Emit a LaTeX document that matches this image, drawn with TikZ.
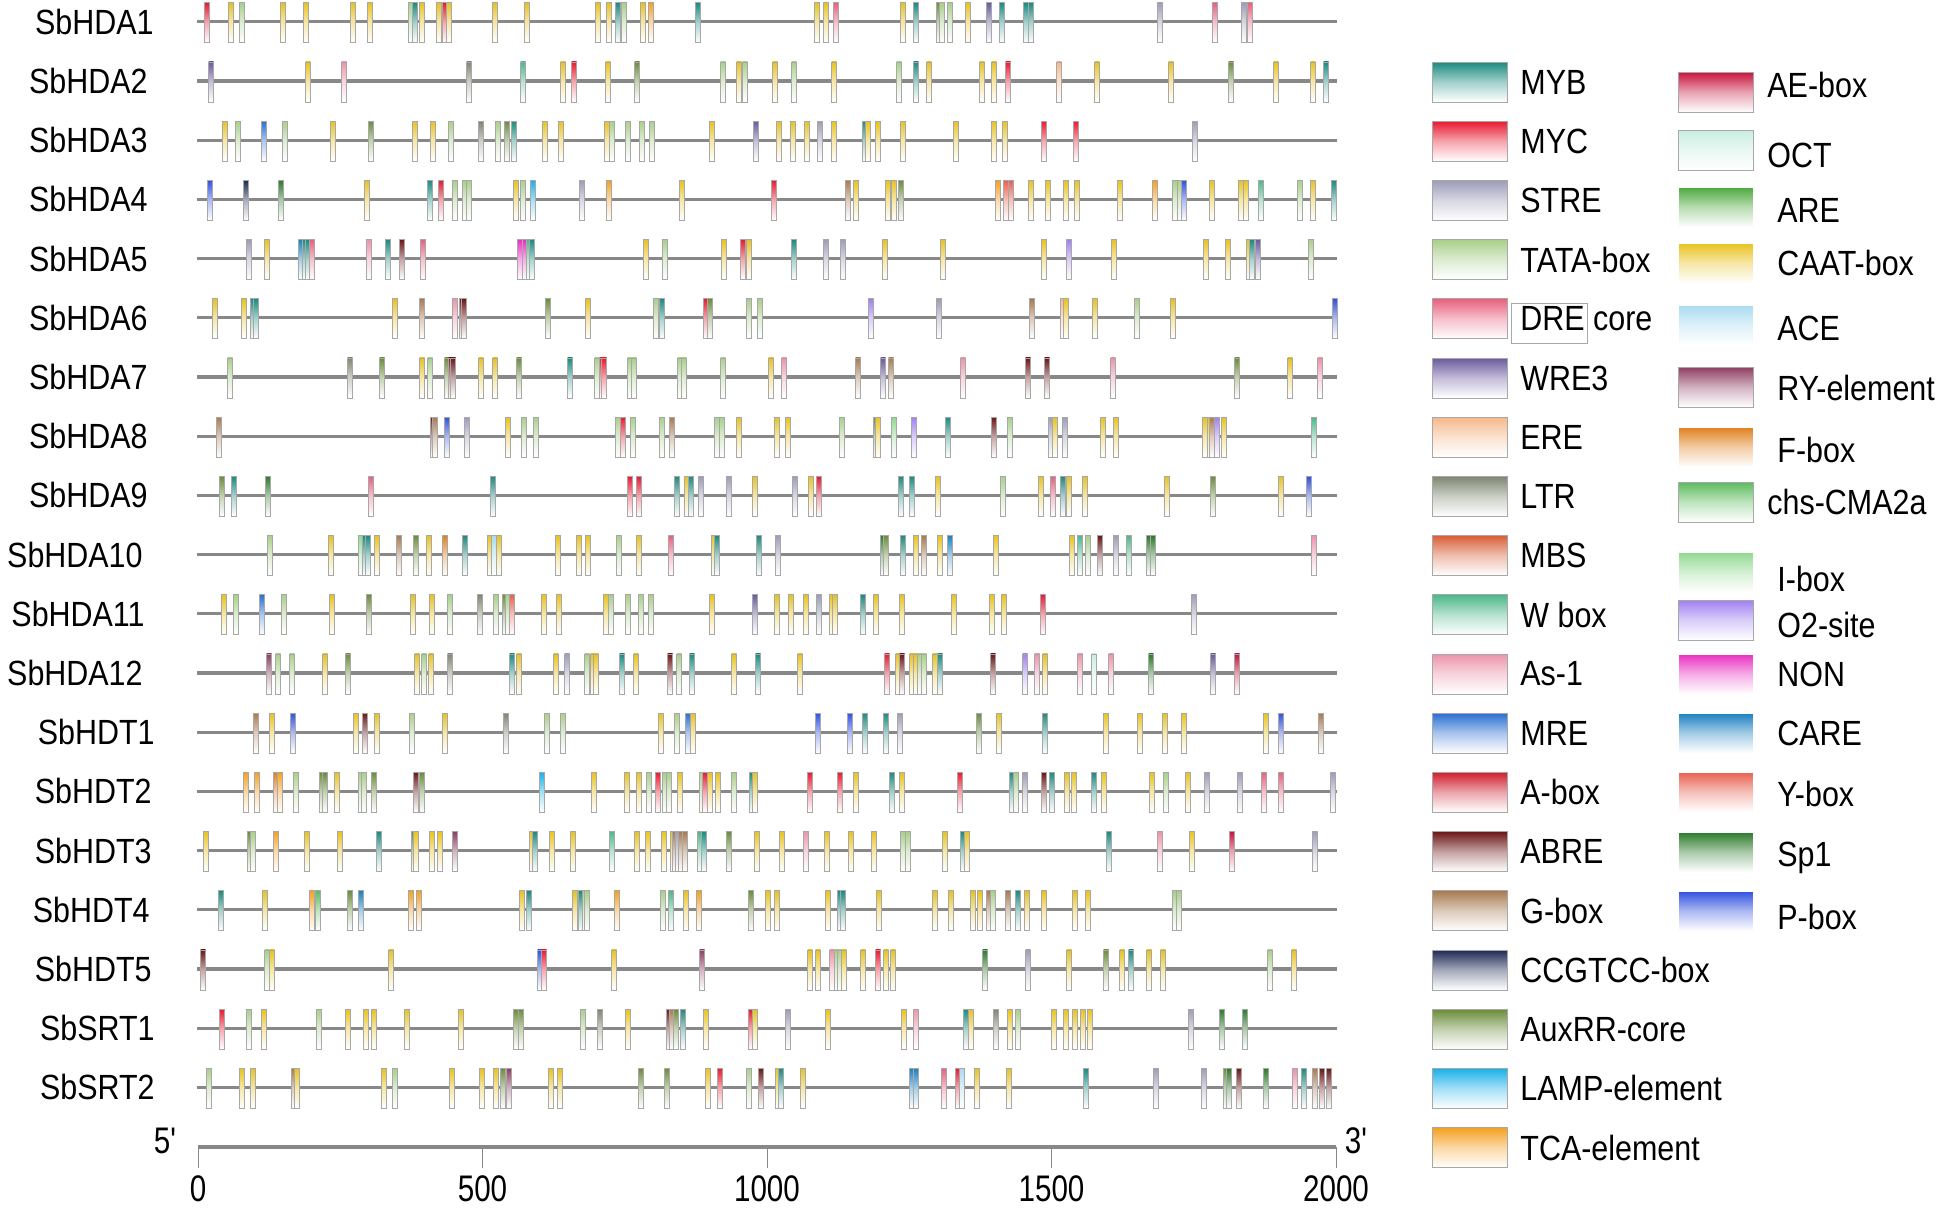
\documentclass[tikz,border=0pt]{standalone}
\usepackage{fontspec}
\setmainfont[FakeStretch=0.87]{Liberation Sans}
\newfontfamily\axfont[FakeStretch=0.8]{Liberation Sans}
\definecolor{cY}{HTML}{E8C21E}
\definecolor{cT}{HTML}{A9CF8A}
\definecolor{cM}{HTML}{1A8A80}
\definecolor{cR}{HTML}{E81A30}
\definecolor{cS}{HTML}{9C9CB8}
\definecolor{cD}{HTML}{E8607E}
\definecolor{cW3}{HTML}{6A5A9E}
\definecolor{cE}{HTML}{F5B88A}
\definecolor{cL}{HTML}{7F8672}
\definecolor{cMB}{HTML}{D86038}
\definecolor{cWB}{HTML}{4CB88A}
\definecolor{cAS}{HTML}{EC93AA}
\definecolor{cMR}{HTML}{2A6FD2}
\definecolor{cAB}{HTML}{D0202F}
\definecolor{cABR}{HTML}{6B1616}
\definecolor{cG}{HTML}{A87A52}
\definecolor{cCC}{HTML}{1E2A55}
\definecolor{cAX}{HTML}{6B8C3A}
\definecolor{cLA}{HTML}{1AB0E8}
\definecolor{cTC}{HTML}{F5A020}
\definecolor{cAE}{HTML}{C8143C}
\definecolor{cOC}{HTML}{C8EEE0}
\definecolor{cAR}{HTML}{4CA83C}
\definecolor{cAC}{HTML}{A8DCF0}
\definecolor{cRY}{HTML}{8E3E62}
\definecolor{cF}{HTML}{E0801E}
\definecolor{cCH}{HTML}{5CBC5C}
\definecolor{cI}{HTML}{90D890}
\definecolor{cO2}{HTML}{A080F0}
\definecolor{cN}{HTML}{E830C0}
\definecolor{cCA}{HTML}{1A80C0}
\definecolor{cYB}{HTML}{E86050}
\definecolor{cSP}{HTML}{2A7A2A}
\definecolor{cP}{HTML}{3050E0}
\definecolor{gline}{HTML}{888888}
\definecolor{bargray}{HTML}{A8A8A8}
\tikzset{
  lbl/.style={font=\fontsize{17.5}{20}\selectfont, inner sep=0pt},
  axl/.style={font=\axfont\fontsize{18.5}{21}\selectfont, inner sep=0pt},
  gene/.style={draw=gline, line width=1.6pt},
  tickline/.style={draw=gline, line width=0.5pt},
  barbox/.style={draw=bargray, line width=0.3pt},
  swatchbox/.style={line width=0.4pt},
}
\newcommand\genebars[2]{%
  \foreach \bx/\bc in {#2}{%
    \shadedraw[barbox, top color=c\bc, bottom color=white, middle color=c\bc!38!white]
      (\bx-2.5,#1-19) rectangle (\bx+2.5,#1+21);}}
\begin{document}
\begin{tikzpicture}[x=0.5pt,y=-0.5pt]
\useasboundingbox (0,0) rectangle (1944,1210);
% gene lines
\foreach \yy in {21.7,80.9,140.1,199.3,258.5,317.7,376.9,436.1,495.3,554.5,613.7,672.9,732.1,791.3,850.5,909.7,968.9,1028.1,1087.3}
  \draw[gene] (197,\yy) -- (1337,\yy);
% row labels
\node[lbl,anchor=east] (g1) at (154,21.7) {SbHDA1};
\node[lbl,anchor=east] (g2) at (148,80.9) {SbHDA2};
\node[lbl,anchor=east] (g3) at (148,140.1) {SbHDA3};
\node[lbl,anchor=east] (g4) at (148,199.3) {SbHDA4};
\node[lbl,anchor=east] (g5) at (148,258.5) {SbHDA5};
\node[lbl,anchor=east] (g6) at (148,317.7) {SbHDA6};
\node[lbl,anchor=east] (g7) at (148,376.9) {SbHDA7};
\node[lbl,anchor=east] (g8) at (148,436.1) {SbHDA8};
\node[lbl,anchor=east] (g9) at (148,495.3) {SbHDA9};
\node[lbl,anchor=east] (g10) at (143,554.5) {SbHDA10};
\node[lbl,anchor=east] (g11) at (145,613.7) {SbHDA11};
\node[lbl,anchor=east] (g12) at (143,672.9) {SbHDA12};
\node[lbl,anchor=east] (g13) at (155,732.1) {SbHDT1};
\node[lbl,anchor=east] (g14) at (152,791.3) {SbHDT2};
\node[lbl,anchor=east] (g15) at (152,850.5) {SbHDT3};
\node[lbl,anchor=east] (g16) at (150,909.7) {SbHDT4};
\node[lbl,anchor=east] (g17) at (152,968.9) {SbHDT5};
\node[lbl,anchor=east] (g18) at (155,1028.1) {SbSRT1};
\node[lbl,anchor=east] (g19) at (155,1087.3) {SbSRT2};
% bars
\genebars{21.7}{207/R,231/Y,242/T,283/Y,306/Y,353/Y,370/Y,411/T,415/M,422/Y,439/Y,445/R,449/Y,495/Y,527/Y,598/Y,609/Y,618/M,624/T,643/Y,651/TC,698/M,817/Y,826/Y,836/D,903/Y,916/M,939/AX,942/T,950/T,968/Y,989/W3,1002/M,1026/M,1031/M,1160/S,1215/D,1244/S,1250/D}
\genebars{80.9}{211/W3,308/Y,344/AS,469/L,523/WB,563/Y,574/R,608/Y,637/AX,723/T,739/Y,745/T,775/Y,794/T,834/Y,899/T,916/M,929/Y,982/Y,994/Y,1008/R,1059/E,1097/Y,1171/Y,1231/AX,1276/Y,1313/Y,1326/M}
\genebars{140.1}{225/Y,238/T,264/MR,285/T,333/Y,371/AX,415/Y,433/Y,451/T,481/L,498/T,507/AX,514/M,545/Y,561/Y,607/Y,612/T,628/T,642/T,652/T,712/Y,756/W3,779/Y,793/Y,807/Y,820/S,834/Y,865/M,868/Y,878/Y,903/Y,956/Y,994/Y,1005/Y,1044/R,1076/R,1195/S}
\genebars{199.3}{210/P,246/CC,281/SP,367/Y,430/M,441/R,455/T,465/T,469/T,516/Y,523/T,533/LA,582/S,609/TC,682/Y,774/R,848/G,856/Y,888/Y,894/Y,901/AX,998/TC,1006/YB,1011/YB,1031/Y,1048/Y,1066/Y,1077/Y,1120/Y,1155/TC,1175/T,1180/T,1184/P,1212/Y,1241/Y,1246/Y,1261/WB,1300/T,1313/Y,1334/M}
\genebars{258.5}{249/S,267/Y,301/CA,305/M,308/M,312/D,369/AS,388/M,402/ABR,423/D,520/N,525/N,529/WB,532/M,646/Y,665/T,724/Y,743/R,749/Y,794/M,826/S,843/S,885/Y,943/Y,1044/Y,1069/O2,1114/Y,1206/Y,1228/Y,1249/Y,1252/M,1258/W3,1311/T}
\genebars{317.7}{215/Y,244/Y,253/M,256/M,395/Y,422/G,455/AS,462/ABR,464/ABR,548/AX,588/Y,656/T,662/M,706/R,710/AX,749/T,760/T,871/O2,939/S,1032/G,1063/E,1066/Y,1095/Y,1137/T,1173/Y,1335/P}
\genebars{376.9}{230/T,350/L,382/AX,422/Y,430/T,447/AX,451/ABR,453/ABR,481/Y,495/Y,519/AX,570/M,597/T,602/R,604/R,630/T,634/T,680/T,684/T,723/T,771/Y,784/AS,858/G,883/W3,891/G,963/AS,1028/ABR,1047/ABR,1113/AS,1237/AX,1290/Y,1320/AS}
\genebars{436.1}{219/G,433/ABR,435/G,447/P,467/S,508/Y,524/T,536/T,618/T,623/R,633/T,662/T,672/G,717/T,722/T,739/Y,777/Y,788/Y,842/T,876/AX,878/Y,894/I,914/O2,948/M,994/ABR,1010/T,1051/S,1055/Y,1065/S,1103/Y,1116/Y,1205/Y,1210/Y,1212/G,1217/O2,1224/Y,1314/WB}
\genebars{495.3}{222/AX,234/M,268/SP,371/D,493/M,630/R,639/R,677/M,687/Y,691/M,701/S,729/S,755/Y,795/S,811/Y,819/R,901/M,912/M,938/Y,1003/T,1041/Y,1053/D,1063/M,1069/Y,1085/Y,1167/Y,1213/AX,1281/Y,1309/P}
\genebars{554.5}{270/T,331/Y,361/I,365/M,368/M,377/Y,399/G,416/AX,429/Y,445/F,465/M,490/Y,494/AC,499/Y,558/Y,579/Y,588/Y,619/T,639/Y,671/D,714/Y,717/M,759/M,778/S,883/SP,886/AX,903/M,916/Y,924/G,940/Y,950/CA,996/Y,1072/Y,1080/WB,1088/T,1100/ABR,1116/S,1129/WB,1149/SP,1153/SP,1314/AS}
\genebars{613.7}{224/Y,236/T,262/MR,284/T,332/Y,369/AX,413/Y,432/Y,450/T,480/L,496/T,505/AX,508/T,512/YB,544/Y,559/Y,606/Y,611/T,628/T,641/T,651/T,712/Y,755/W3,777/Y,791/Y,806/Y,819/S,832/Y,835/Y,863/M,876/Y,902/Y,954/Y,992/Y,1004/Y,1043/R,1194/S}
\genebars{672.9}{269/RY,278/T,292/T,325/Y,348/AX,417/Y,424/T,431/Y,450/L,512/M,519/Y,556/Y,567/S,587/T,593/Y,596/Y,622/M,636/Y,670/ABR,679/T,692/M,734/Y,758/M,800/Y,887/R,898/Y,902/ABR,912/Y,916/Y,920/T,924/T,935/Y,940/M,993/ABR,1025/O2,1037/AS,1045/Y,1080/AS,1094/OC,1111/AS,1151/SP,1213/W3,1237/AE}
\genebars{732.1}{256/G,272/Y,293/P,356/Y,365/ABR,377/Y,412/T,445/Y,506/L,547/T,563/T,661/Y,677/T,688/MR,693/Y,818/P,850/P,865/M,886/M,900/S,979/AX,999/Y,1045/M,1106/Y,1140/Y,1165/Y,1184/Y,1266/Y,1281/P,1321/G}
\genebars{791.3}{246/TC,257/TC,276/F,280/TC,296/T,322/AX,325/AX,337/Y,361/T,364/T,374/AX,416/ABR,422/AX,542/LA,594/Y,627/Y,639/Y,649/T,658/R,665/T,669/T,680/Y,702/T,705/R,710/Y,718/Y,734/T,752/M,755/Y,810/R,840/R,856/Y,892/M,902/Y,960/R,1012/M,1016/T,1025/S,1044/ABR,1052/M,1067/Y,1074/Y,1094/M,1104/Y,1152/Y,1166/T,1188/Y,1207/S,1240/S,1264/D,1281/D,1333/S}
\genebars{850.5}{206/Y,250/AX,253/T,276/TC,307/Y,340/Y,379/M,414/AX,416/Y,432/Y,440/Y,455/RY,532/Y,535/M,552/Y,573/Y,612/WB,637/Y,648/Y,664/Y,673/Y,675/G,678/S,681/G,685/G,700/WB,704/M,729/AX,757/Y,782/Y,806/AS,827/Y,851/Y,874/Y,903/T,908/T,945/Y,963/M,967/Y,1109/M,1160/AS,1192/Y,1232/AE,1315/S}
\genebars{909.7}{221/M,265/Y,312/TC,318/CH,350/AX,361/CA,411/TC,419/TC,522/Y,529/M,575/Y,581/M,585/T,587/T,617/TC,663/T,671/WB,686/Y,699/TC,751/AX,768/Y,777/Y,828/Y,840/M,843/M,879/Y,935/Y,951/Y,973/Y,980/Y,989/G,993/T,1008/G,1018/M,1027/Y,1044/Y,1075/Y,1088/Y,1175/T,1179/T}
\genebars{968.9}{203/ABR,267/T,272/Y,391/Y,540/P,544/R,614/Y,702/RY,810/Y,818/Y,832/AS,837/T,840/T,844/Y,863/Y,878/R,886/Y,893/Y,985/SP,1028/S,1069/Y,1106/AX,1122/Y,1131/M,1149/Y,1163/Y,1270/T,1294/Y}
\genebars{1028.1}{222/R,249/T,264/Y,319/T,348/Y,366/Y,374/Y,407/Y,461/Y,516/AX,521/AX,583/T,600/L,628/Y,669/ABR,672/G,676/AX,683/M,706/Y,751/R,755/Y,788/S,828/Y,904/Y,916/AS,966/M,971/Y,996/L,1010/Y,1018/T,1054/Y,1066/Y,1075/Y,1083/Y,1090/Y,1191/S,1222/SP,1245/SP}
\genebars{1087.3}{209/T,242/Y,253/Y,294/G,297/Y,384/Y,395/T,452/Y,482/Y,496/Y,503/AX,509/RY,551/Y,560/Y,641/AX,667/AX,708/Y,720/R,749/T,761/ABR,778/Y,781/M,803/Y,912/CA,916/CA,944/D,958/R,962/AC,977/Y,1009/Y,1086/M,1156/S,1204/S,1226/AX,1229/SP,1239/ABR,1266/SP,1295/AS,1304/M,1315/G,1322/ABR,1329/ABR}
% axis
\draw[gene] (198,1147) -- (1336,1147);
\foreach \tx/\tl [count=\ti] in {198/0,482.5/500,767/1000,1051.5/1500,1336/2000}{
  \draw[tickline] (\tx,1147) -- (\tx,1168);
  \node[axl] (tk\ti) at (\tx,1189) {\tl};
}
\node[axl] (five) at (165,1141) {5'};
\node[axl] (three) at (1356,1141) {3'};
% legend left column
\foreach \lt/\lk [count=\li from 0] in {MYB/M,MYC/R,STRE/S,TATA-box/T,DRE core/D,WRE3/W3,ERE/E,LTR/L,MBS/MB,W box/WB,As-1/AS,MRE/MR,A-box/AB,ABRE/ABR,G-box/G,CCGTCC-box/CC,AuxRR-core/AX,LAMP-element/LA,TCA-element/TC}{
  \pgfmathsetmacro\ly{82+59.2*\li}
  \shadedraw[swatchbox, draw=bargray, top color=c\lk, bottom color=white, middle color=c\lk!40!white]
    (1432,\ly-20) rectangle (1507,\ly+20);
  \node[lbl,anchor=west] (legL\li) at (1520,\ly) {\lt};
}
\draw[draw=bargray, line width=0.4pt] (1511,303) rectangle (1587,343);
% legend right column
\foreach \rt/\rk/\rs/\rd/\rty/\rtx [count=\ri] in {
  AE-box/AE/72/bargray/85/1767,
  OCT/OC/130/bargray/155/1767,
  ARE/AR/187/white/210/1777,
  CAAT-box/Y/243/white/263/1777,
  ACE/AC/305/white/328/1777,
  RY-element/RY/367/bargray/388/1777,
  F-box/F/427/white/450/1777,
  chs-CMA2a/CH/482/bargray/502/1767,
  I-box/I/552/white/579/1777,
  O2-site/O2/600/bargray/625/1777,
  NON/N/654/white/674/1777,
  CARE/CA/713/white/733/1777,
  Y-box/YB/772/white/794/1777,
  Sp1/SP/832/white/858/1777,
  P-box/P/891/white/917/1777}{
  \shadedraw[swatchbox, draw=\rd, top color=c\rk, bottom color=white, middle color=c\rk!40!white]
    (1678,\rs) rectangle (1753,\rs+40);
  \node[lbl,anchor=west] (legR\ri) at (\rtx,\rty) {\rt};
}
\end{tikzpicture}
\end{document}
